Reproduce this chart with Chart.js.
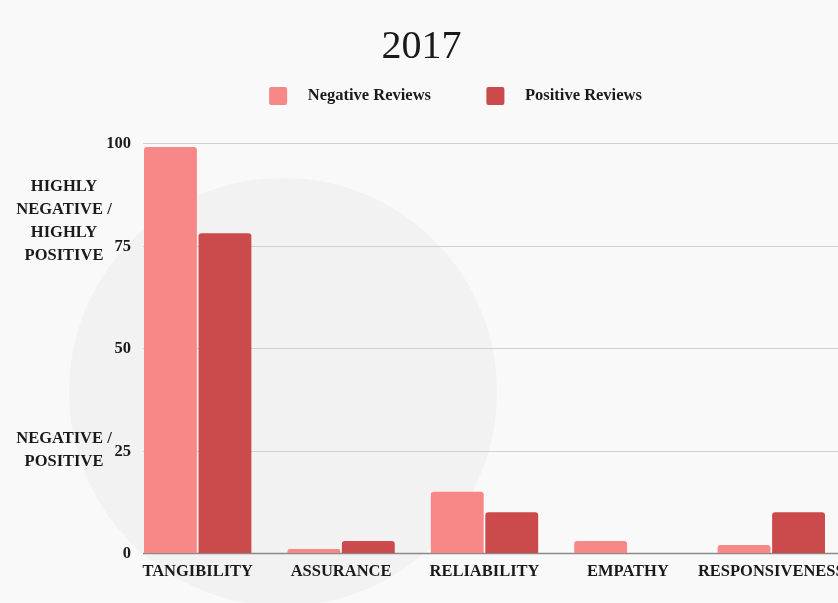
<!DOCTYPE html>
<html>
<head>
<meta charset="utf-8">
<script src="https://cdn.jsdelivr.net/npm/chart.js@4.4.1/dist/chart.umd.min.js"></script>
<style>
  html, body { margin: 0; padding: 0; background: #f9f9f9; overflow: hidden; }
  #wrap { width: 860px; height: 603px; }
</style>
</head>
<body>
<div id="wrap"><canvas id="chart" width="860" height="603"></canvas></div>
<script>
'use strict';

// Data
// --------------------------------------------------------------------
const categories = ['TANGIBILITY', 'ASSURANCE', 'RELIABILITY', 'EMPATHY', 'RESPONSIVENESS'];
const negativeReviews = [99, 1, 15, 3, 2];
const positiveReviews = [78, 3, 10, 0, 10];
const yTicks = [0, 25, 50, 75, 100];
const sideNotes = [
  { value: 81, lines: ['HIGHLY', 'NEGATIVE /', 'HIGHLY', 'POSITIVE'] },
  { value: 25, lines: ['NEGATIVE /', 'POSITIVE'] }
];

const negColor = '#f88787',
  posColor = '#cb4a4b',
  gridColor = '#d0d0d0',
  textColor = '#1a1a1a',
  serif = "'Liberation Serif', 'DejaVu Serif', serif";

// background disc, grid, y labels and side notes
const decor = {
  id: 'decor',
  beforeInit(chart) {
    // extra room under the legend
    const fit = chart.legend.fit;
    chart.legend.fit = function () {
      fit.bind(chart.legend)();
      this.height += 28;
    };
  },
  afterLayout(chart) {
    // legend sits a bit right of centre
    chart.legend.left += 34;
    chart.legend.right += 34;
  },
  beforeDraw(chart) {
    const ctx = chart.ctx;
    ctx.save();
    ctx.fillStyle = '#f9f9f9';
    ctx.fillRect(0, 0, chart.width, chart.height);
    ctx.beginPath();
    ctx.arc(283, 392, 214, 0, Math.PI * 2);
    ctx.fillStyle = '#f2f2f2';
    ctx.fill();
    ctx.restore();
  },
  beforeDatasetsDraw(chart) {
    const ctx = chart.ctx, y = chart.scales.y, area = chart.chartArea;
    ctx.save();
    ctx.fillStyle = textColor;
    ctx.font = 'bold 16.5px ' + serif;
    ctx.textBaseline = 'middle';
    yTicks.forEach(function (v) {
      const py = Math.round(y.getPixelForValue(v)) + 0.5;
      ctx.beginPath();
      ctx.moveTo(area.left + 17, py);
      ctx.lineTo(area.right, py);
      ctx.strokeStyle = v === 0 ? '#8a8a8a' : gridColor;
      ctx.lineWidth = v === 0 ? 1.5 : 1;
      ctx.stroke();
      ctx.textAlign = 'right';
      ctx.fillText(String(v), area.left + 5, py);
    });
    ctx.textAlign = 'center';
    sideNotes.forEach(function (n) {
      const cy = y.getPixelForValue(n.value);
      const lh = 23;
      const top = cy - (n.lines.length - 1) * lh / 2;
      n.lines.forEach(function (t, i) {
        ctx.fillText(t, 64, top + i * lh);
      });
    });
    ctx.restore();
  }
};

const chartEl = document.getElementById('chart');
new Chart(chartEl, {
  type: 'bar',
  data: {
    labels: categories,
    datasets: [
      {
        label: 'Negative Reviews',
        data: negativeReviews,
        backgroundColor: negColor,
        borderRadius: { topLeft: 3, topRight: 3 },
        borderSkipped: 'bottom',
        categoryPercentage: 0.76,
        barPercentage: 0.97
      },
      {
        label: 'Positive Reviews',
        data: positiveReviews,
        backgroundColor: posColor,
        borderRadius: { topLeft: 3, topRight: 3 },
        borderSkipped: 'bottom',
        categoryPercentage: 0.76,
        barPercentage: 0.97
      }
    ]
  },
  options: {
    responsive: false,
    animation: false,
    layout: { padding: { left: 0, right: 17, top: 0, bottom: 12 } },
    plugins: {
      title: {
        display: true,
        text: '2017',
        color: textColor,
        font: { family: serif, size: 40, weight: 'normal' },
        padding: { top: 23, bottom: 6 }
      },
      legend: {
        display: true,
        labels: {
          color: textColor,
          font: { family: serif, size: 16.5, weight: 'bold' },
          boxWidth: 18,
          boxHeight: 18,
          padding: 10,
          useBorderRadius: true,
          borderRadius: 2,
          generateLabels: function (chart) {
            const items = Chart.defaults.plugins.legend.labels.generateLabels(chart);
            items.forEach(function (it, i) {
              it.text = '   ' + it.text + (i === 0 ? '           ' : '');
            });
            return items;
          }
        }
      },
      tooltip: { enabled: false }
    },
    scales: {
      x: {
        grid: { display: false, drawTicks: false },
        border: { display: false },
        ticks: {
          color: textColor,
          font: { family: serif, size: 16.5, weight: 'bold' },
          padding: 9,
          maxRotation: 0,
          autoSkip: false
        }
      },
      y: {
        min: 0,
        max: 100,
        afterFit: function (scale) { scale.width = 126; },
        grid: { display: false, drawTicks: false },
        border: { display: false },
        ticks: { display: false }
      }
    }
  },
  plugins: [decor]
});
</script>
</body>
</html>
